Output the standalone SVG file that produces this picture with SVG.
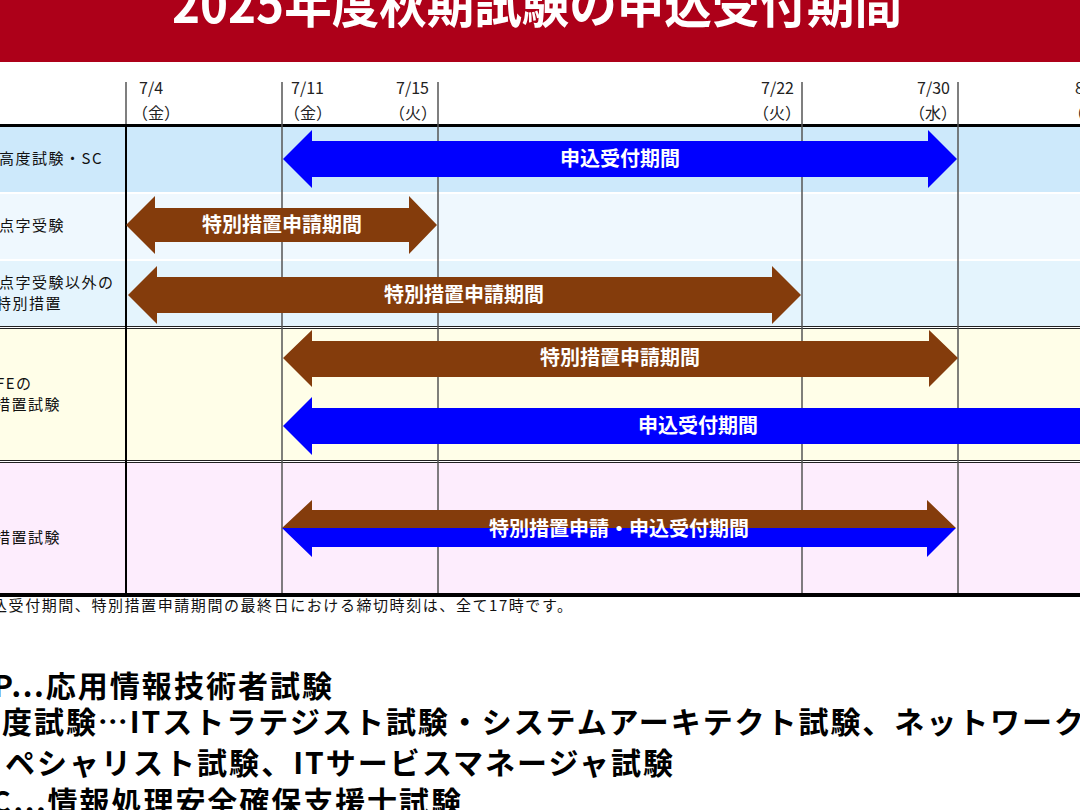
<svg xmlns="http://www.w3.org/2000/svg" width="1080" height="810" viewBox="0 0 1080 810">
<style>
.jp{font-family:"Noto Sans CJK JP","Noto Sans",sans-serif}
.lbl{font-size:15px;fill:#111;letter-spacing:1.5px}
.date{font-size:16px;fill:#222}
.atext{font-size:20px;font-weight:700;fill:#fff}
.big{font-size:30px;font-weight:700;fill:#000}
.vg{stroke:#555;stroke-width:1.5}
.blue{fill:#0000FF}
.brown{fill:#843C0C}
</style>
<rect width="1080" height="810" fill="#fff"/>
<g id="header">
<rect x="0" y="0" width="1080" height="62" fill="#AD0019"/>
<text class="jp" x="172" y="23" font-size="52" font-weight="700" fill="#fff" textLength="730" lengthAdjust="spacingAndGlyphs">2025年度秋期試験の申込受付期間</text>
</g>
<g id="rows">
<rect x="0" y="127" width="1080" height="65" fill="#CDE9FB"/>
<rect x="0" y="194" width="1080" height="65" fill="#EFF8FE"/>
<rect x="0" y="261" width="1080" height="65" fill="#E4F4FD"/>
<rect x="0" y="328" width="1080" height="133" fill="#FFFEE8"/>
<rect x="0" y="463" width="1080" height="130" fill="#FDEDFD"/>
</g>
<g id="grid">
<line x1="0" y1="125.5" x2="1080" y2="125.5" stroke="#000" stroke-width="3"/>
<line x1="0" y1="326.5" x2="1080" y2="326.5" stroke="#222" stroke-width="1"/>
<line x1="0" y1="328.5" x2="1080" y2="328.5" stroke="#222" stroke-width="1"/>
<line x1="0" y1="460.5" x2="1080" y2="460.5" stroke="#222" stroke-width="1"/>
<line x1="0" y1="462.5" x2="1080" y2="462.5" stroke="#222" stroke-width="1"/>
<line x1="0" y1="595" x2="1080" y2="595" stroke="#000" stroke-width="4"/>
<line x1="126" y1="82" x2="126" y2="124" class="vg"/>
<line x1="126" y1="127" x2="126" y2="593" stroke="#000" stroke-width="2"/>
<line x1="282" y1="82" x2="282" y2="593" class="vg"/>
<line x1="438" y1="82" x2="438" y2="593" class="vg"/>
<line x1="802" y1="82" x2="802" y2="593" class="vg"/>
<line x1="958" y1="82" x2="958" y2="593" class="vg"/>
</g>
<g id="dates" class="jp date">
<text x="139" y="94">7/4</text><text x="132" y="119">（金）</text>
<text x="291" y="94">7/11</text><text x="284" y="119">（金）</text>
<text x="429" y="94" text-anchor="end">7/15</text><text x="437" y="119" text-anchor="end">（火）</text>
<text x="794" y="94" text-anchor="end">7/22</text><text x="801" y="119" text-anchor="end">（火）</text>
<text x="950" y="94" text-anchor="end">7/30</text><text x="957" y="119" text-anchor="end">（水）</text>
<text x="1075" y="94">8</text><text x="1068" y="119">（</text>
</g>
<g id="labels" class="jp lbl">
<text x="-1" y="164">高度試験・SC</text>
<text x="-1" y="231">点字受験</text>
<text x="-1" y="288">点字受験以外の</text>
<text x="-4" y="309">特別措置</text>
<text x="-4" y="389">FEの</text>
<text x="-5" y="410">措置試験</text>
<text x="-5" y="543">措置試験</text>
</g>
<g id="row1-arrow">
<polygon class="blue" points="283,159 312,130 312,141 928,141 928,130 957,159 928,188 928,177 312,177 312,188"/>
<text class="jp atext" x="620" y="166" text-anchor="middle">申込受付期間</text>
</g>
<g id="row2-arrow">
<polygon class="brown" points="126,225 155,196 155,208 409,208 409,196 437,225 409,254 409,242 155,242 155,254"/>
<text class="jp atext" x="282" y="232" text-anchor="middle">特別措置申請期間</text>
</g>
<g id="row3-arrow">
<polygon class="brown" points="128,295 157,266 157,277 772,277 772,266 801,295 772,324 772,313 157,313 157,324"/>
<text class="jp atext" x="464" y="302" text-anchor="middle">特別措置申請期間</text>
</g>
<g id="row4-arrows">
<polygon class="brown" points="283,358 312,330 312,341 929,341 929,330 958,358 929,387 929,377 312,377 312,387"/>
<text class="jp atext" x="620" y="365" text-anchor="middle">特別措置申請期間</text>
<polygon class="blue" points="283,426 312,397 312,408 1085,408 1085,397 1114,426 1085,455 1085,444 312,444 312,455"/>
<text class="jp atext" x="698" y="433" text-anchor="middle">申込受付期間</text>
</g>
<g id="row5-arrow">
<polygon class="brown" points="282,528 312,500 312,510 927,510 927,500 956,528"/>
<polygon class="blue" points="282,528 956,528 927,557 927,547 312,547 312,557"/>
<text class="jp atext" x="619" y="536" text-anchor="middle">特別措置申請・申込受付期間</text>
</g>
<g id="footnote">
<text class="jp" x="-8" y="611" font-size="15" fill="#111" textLength="580" lengthAdjust="spacing">込受付期間、特別措置申請期間の最終日における締切時刻は、全て17時です。</text>
</g>
<g id="legend" class="jp big">
<text x="-7" y="697" textLength="339" lengthAdjust="spacing">P…応用情報技術者試験</text>
<text x="2" y="733" textLength="1082" lengthAdjust="spacing">度試験…ITストラテジスト試験・システムアーキテクト試験、ネットワーク</text>
<text x="5" y="774" textLength="668" lengthAdjust="spacing">ペシャリスト試験、ITサービスマネージャ試験</text>
<text x="-9" y="813" textLength="470" lengthAdjust="spacing">C…情報処理安全確保支援士試験</text>
</g>
</svg>
